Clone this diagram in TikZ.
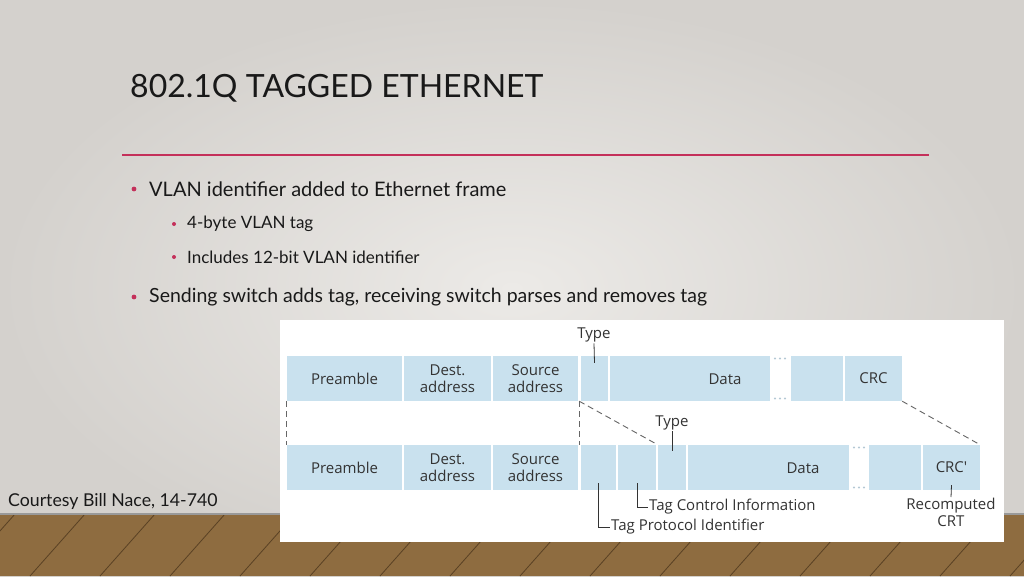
\documentclass[tikz,border=0pt]{standalone}
\usepackage{fontspec}
\setmainfont{Lato}
\newfontfamily\figfont{Open Sans}
\usepackage{tikz}
\usetikzlibrary{positioning}

\definecolor{slidered}{HTML}{C4305A}
\definecolor{fieldblue}{HTML}{C9E1EE}
\definecolor{gapdot}{HTML}{B4C8D4}
\definecolor{figtext}{HTML}{333333}
\definecolor{woodbrown}{HTML}{8E6C40}
\definecolor{wooddark}{HTML}{5A4124}
\definecolor{bginner}{HTML}{ECEAE7}
\definecolor{bgouter}{HTML}{D4D1CD}

\begin{document}
\begin{tikzpicture}[x=1pt,y=-1pt,
    field/.style={fill=fieldblue, minimum height=45pt, inner sep=0pt, text=figtext,
      font=\figfont\fontsize{15}{17}\selectfont, align=center},
    figlabel/.style={text=figtext, inner sep=1pt, font=\figfont\fontsize{15}{17}\selectfont, align=center},
    ticker/.style={figtext, line width=0.8pt},
    cut/.style={gray!80!black, line width=0.9pt, dash pattern=on 6pt off 4pt},
    bulletdot/.style={fill=slidered, draw=none},
    slidetext/.style={anchor=west, inner sep=0pt, text=black!90}]
  \useasboundingbox (0,0) rectangle (1024,576);

  % Draw slide background
  \shade [inner color=bginner, outer color=bgouter] (0,0) rectangle (1024,576);

  % Draw floor
  \fill [woodbrown] (0,514) rectangle (1024,576);
  \foreach \x in {-40,30,100,170,240,310,380,450,520,590,660,730,800,870,940,1010}
    \draw [wooddark, line width=0.8pt] (\x,576) -- (\x+55,514);
  \draw [black!40, line width=1.2pt] (0,514) -- (1024,514);

  % Draw title and rule
  \node [slidetext, font=\fontsize{32}{38}\selectfont] (title) at (130,88) {802.1Q TAGGED ETHERNET};
  \draw [slidered, line width=2.6pt] (122,155) -- (929,155);

  % Draw bullets
  \fill [bulletdot] (134,189) circle (2.4);
  \node [slidetext, font=\fontsize{20}{24}\selectfont] (b1) at (149,189) {VLAN identifier added to Ethernet frame};
  \fill [bulletdot] (174,224) circle (2);
  \node [slidetext, font=\fontsize{17}{20}\selectfont] (b2) at (187,224) {4-byte VLAN tag};
  \fill [bulletdot] (174,257) circle (2);
  \node [slidetext, font=\fontsize{17}{20}\selectfont] (b3) at (187,257) {Includes 12-bit VLAN identifier};
  \fill [bulletdot] (134,297) circle (2.4);
  \node [slidetext, font=\fontsize{19.5}{24}\selectfont] (b4) at (149,297) {Sending switch adds tag, receiving switch parses and removes tag};

  \node [slidetext, font=\fontsize{17.7}{20}\selectfont] (credit) at (8,501) {Courtesy Bill Nace, 14-740};

  % Draw figure panel
  \fill [white] (280,320) rectangle (1004,542);

  % Untagged frame
  \node [field, minimum width=115pt] (pre1) at (344.5,378.5) {Preamble};
  \node [field, minimum width=87pt] (dst1) at (447.5,378.5) {Dest.\\address};
  \node [field, minimum width=85pt] (src1) at (535.5,378.5) {Source\\address};
  \node [field, minimum width=27pt] (typ1) at (594.5,378.5) {};
  \node [field, minimum width=160pt] (dat1) at (690,378.5) {};
  \node [figlabel] (dat1txt) at (725,379) {Data};
  \node [field, minimum width=52pt] (blk1) at (817,378.5) {};
  \node [field, minimum width=57pt] (crc1) at (873.5,378.5) {CRC};

  % Tagged frame
  \node [field, minimum width=115pt] (pre2) at (344.5,467.5) {Preamble};
  \node [field, minimum width=87pt] (dst2) at (447.5,467.5) {Dest.\\address};
  \node [field, minimum width=85pt] (src2) at (535.5,467.5) {Source\\address};
  \node [field, minimum width=35pt] (tpid) at (598.5,467.5) {};
  \node [field, minimum width=38pt] (tci) at (637,467.5) {};
  \node [field, minimum width=28pt] (typ2) at (672,467.5) {};
  \node [field, minimum width=161pt] (dat2) at (768.5,467.5) {};
  \node [figlabel] (dat2txt) at (803,468) {Data};
  \node [field, minimum width=52pt] (blk2) at (895,467.5) {};
  \node [field, minimum width=57pt] (crc2) at (951.5,467.5) {CRC\textquotesingle};

  % Dots in the gaps
  \foreach \x in {775,780,785} {
    \fill [gapdot] (\x,358.5) circle (1.2);
    \fill [gapdot] (\x,398.5) circle (1.2);
    \fill [gapdot] (\x+79,447.5) circle (1.2);
    \fill [gapdot] (\x+79,487.5) circle (1.2);
  }

  % Dashed cut lines
  \draw [cut] (pre1.south west) -- (pre2.north west);
  \draw [cut] ([xshift=1pt]src1.south east) -- ([xshift=1pt]src2.north east);
  \draw [cut] ([xshift=1pt]src1.south east) -- (typ2.north west);
  \draw [cut] (crc1.south east) -- (crc2.north east);

  % Labels and ticks
  \node [figlabel] (typlab1) at (594,335) {Type};
  \draw [ticker] (typlab1.south) -- ([yshift=-7pt]typ1.north);
  \node [figlabel] (typlab2) at (672,423) {Type};
  \draw [ticker] (typlab2.south) -- ([yshift=-6pt]typ2.north);
  \node [figlabel, anchor=west] (tcilab) at (648,507) {Tag Control Information};
  \draw [ticker] ([yshift=7pt]tci.south) |- (tcilab.west);
  \node [figlabel, anchor=west] (tpidlab) at (610,527) {Tag Protocol Identifier};
  \draw [ticker] ([yshift=7pt]tpid.south) |- (tpidlab.west);
  \node [figlabel, anchor=north] (reclab) at (951,497) {Recomputed\\CRT};
  \draw [ticker] ([yshift=5pt]crc2.south) -- (reclab.north);
\end{tikzpicture}
\end{document}
